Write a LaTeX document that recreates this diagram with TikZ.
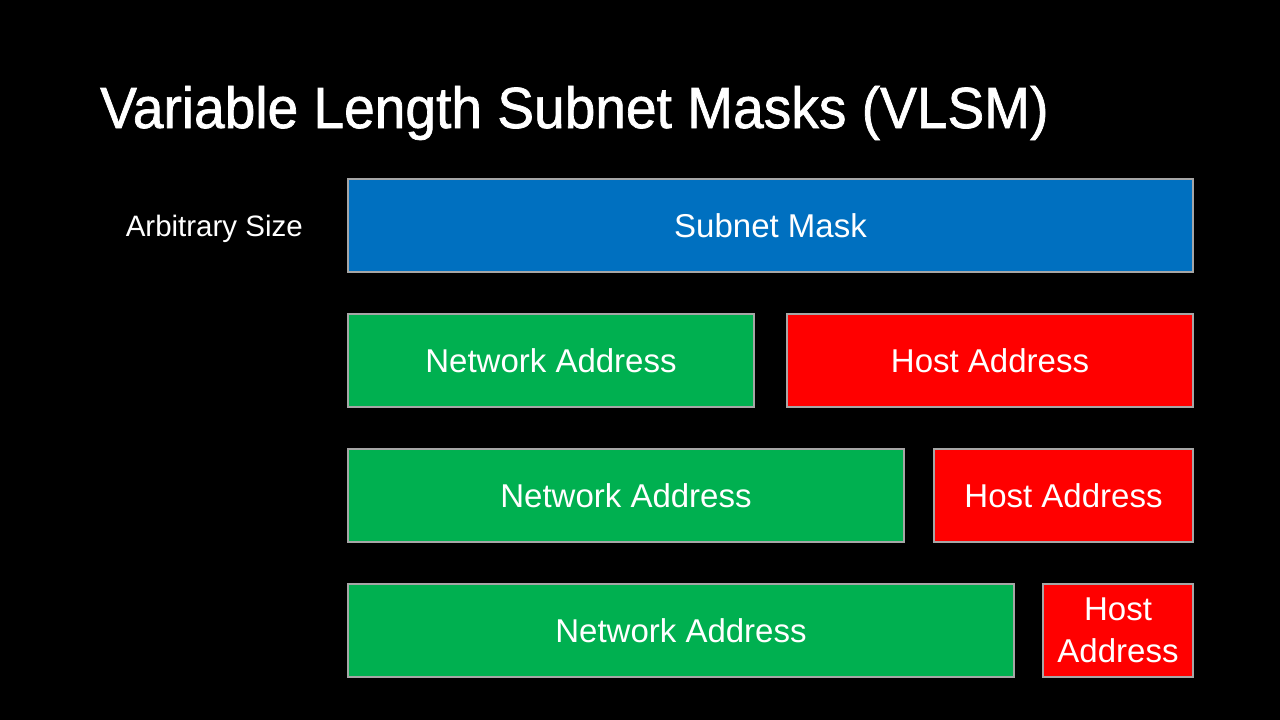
\documentclass[tikz,border=0pt]{standalone}
\usepackage{fontspec}
\setmainfont{Liberation Sans}
\newfontfamily\titlefont[FakeStretch=0.95, FakeBold=1.2]{Liberation Sans}
\definecolor{maskblue}{HTML}{0070C0}
\definecolor{netgreen}{HTML}{00B050}
\definecolor{hostred}{HTML}{FF0000}
\definecolor{edgegray}{HTML}{A6A6A6}
\begin{document}
\begin{tikzpicture}[x=1pt, y=-1pt,
    field/.style={rectangle, draw=edgegray, line width=2pt, text=white,
      anchor=north west, minimum height=93pt, inner sep=0pt, align=center,
      font=\fontsize{33}{42}\selectfont},
    netfield/.style={field, fill=netgreen},
    hostfield/.style={field, fill=hostred}]
    \fill[black] (0, 0) rectangle (1280, 720);
    \useasboundingbox (0, 0) rectangle (1280, 720);

    \node[anchor=base west, text=white, inner sep=0pt,
      font=\titlefont\fontsize{58}{70}\selectfont] (title) at (100, 128)
      {Variable Length Subnet Masks (VLSM)};

    \node[anchor=east, text=white, inner sep=0pt,
      font=\fontsize{29.5}{34}\selectfont] (size) at (303, 229) {Arbitrary Size};

    \node[field, fill=maskblue, minimum width=845pt] (mask) at (347, 178) {Subnet Mask};

    \node[netfield, minimum width=406pt] (net1) at (347, 313) {Network Address};
    \node[hostfield, minimum width=406pt] (host1) at (786, 313) {Host Address};

    \node[netfield, minimum width=556pt] (net2) at (347, 448) {Network Address};
    \node[hostfield, minimum width=259pt] (host2) at (933, 448) {Host Address};

    \node[netfield, minimum width=666pt] (net3) at (347, 583) {Network Address};
    \node[hostfield, minimum width=150pt] (host3) at (1042, 583) {Host\\Address};

  \end{tikzpicture}
\end{document}
